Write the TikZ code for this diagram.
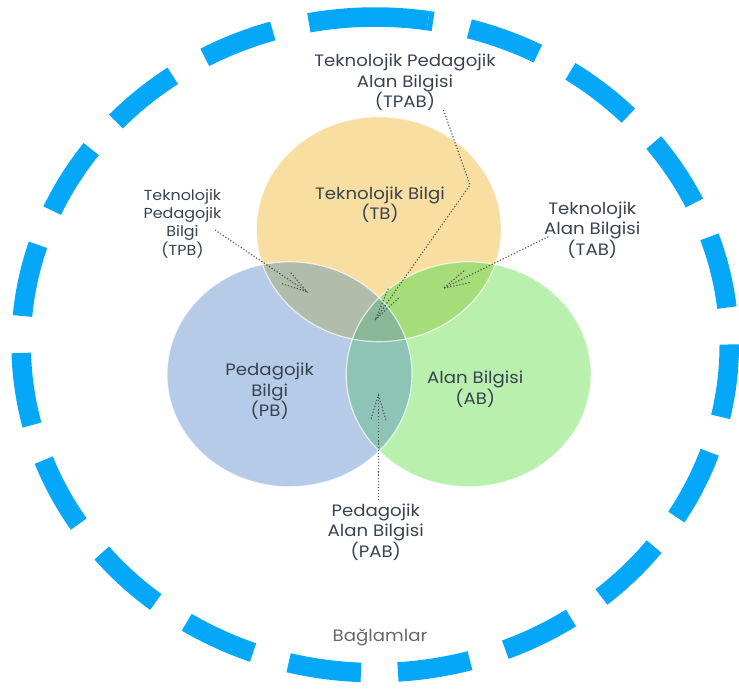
\documentclass[tikz,border=0pt]{standalone}
\usepackage{fontspec}
\setmainfont{Poppins}[FakeStretch=1.1]
\usetikzlibrary{calc}

\definecolor{ringblue}{HTML}{05A8F8}
\definecolor{tbfill}{HTML}{F8DFA1}
\definecolor{pbfill}{HTML}{B5CBE7}
\definecolor{abfill}{HTML}{B9F0AE}
\definecolor{tpbfill}{HTML}{B0BDAA}
\definecolor{tabfill}{HTML}{A7DD79}
\definecolor{pabfill}{HTML}{8DC4B5}
\definecolor{tpabfill}{HTML}{88B898}
\definecolor{inkslate}{HTML}{394250}
\definecolor{ptrgray}{HTML}{4F545B}
\definecolor{ctxgray}{HTML}{666666}

% open V head drawn with the same dotted stroke as the pointer line
\newcommand\dotbarbs[4]{%
  \draw[ptr] ($(#1)!#3!#4:(#2)$) -- (#1) -- ($(#1)!#3!-#4:(#2)$);}

\begin{document}
\begin{tikzpicture}[x=1pt,y=1pt,
  lbl/.style={align=center, inner sep=0pt, text=inkslate,
              font=\fontsize{16.5}{20.5}\selectfont},
  lblsmall/.style={lbl, font=\fontsize{14.5}{18.3}\selectfont},
  ptr/.style={draw=ptrgray, line width=1.1pt, dash pattern=on 1.2pt off 1.9pt},
  rim/.style={draw=white, line width=1.2pt, opacity=0.7},
  ringline/.style={draw=ringblue, line width=19.5pt}]

\useasboundingbox (0,0) rectangle (739,689);
\clip (0,0) rectangle (739,689);

% knowledge domains
\def\tbpath{(378.8,459.8) ellipse [x radius=122.5, y radius=112.5]}
\def\pbpath{(289.5,314.7) ellipse [x radius=122.5, y radius=112.5]}
\def\abpath{(468.7,314.7) ellipse [x radius=122.5, y radius=112.5]}

\fill[tbfill] \tbpath;
\fill[pbfill] \pbpath;
\fill[abfill] \abpath;
\begin{scope}
  \clip \tbpath;
  \fill[tpbfill] \pbpath;
  \fill[tabfill] \abpath;
\end{scope}
\begin{scope}
  \clip \pbpath;
  \fill[pabfill] \abpath;
\end{scope}
\begin{scope}
  \clip \tbpath;
  \clip \pbpath;
  \fill[tpabfill] \abpath;
\end{scope}
\draw[rim] \tbpath;
\draw[rim] \pbpath;
\draw[rim] \abpath;

% context ring: one long dash at the top, evenly dashed elsewhere
\coordinate (ringc) at (375.2,344.2);
\draw[ringline] ($(ringc)+(81.4:354 and 327.8)$)
  arc[start angle=81.4, end angle=100.8, x radius=354, y radius=327.8];
\draw[ringline, dash pattern=on 73.06pt off 37pt, dash phase=73.06pt]
  ($(ringc)+(100.8:354 and 327.8)$)
  arc[start angle=100.8, end angle=441.4, x radius=354, y radius=327.8];

% labels
\node[lbl] (tpab) at (405,606.3) {Teknolojik Pedagojik\\Alan Bilgisi\\(TPAB)};
\node[lbl] (tb) at (380,484.2) {Teknolojik Bilgi\\(TB)};
\node[lblsmall] (tpb) at (182.5,465.5) {Teknolojik\\Pedagojik\\Bilgi\\(TPB)};
\node[lbl] (tab) at (592.3,458.8) {Teknolojik\\Alan Bilgisi\\(TAB)};
\node[lbl] (pb) at (269.7,297.5) {Pedagojik\\Bilgi\\(PB)};
\node[lbl] (ab) at (475.3,299.7) {Alan Bilgisi\\(AB)};
\node[lbl] (pab) at (375.8,157) {Pedagojik\\Alan Bilgisi\\(PAB)};
\node[lbl, text=ctxgray] (ctx) at (380,51) {Bağlamlar};

% pointer ends
\coordinate (tpbTail) at ($(tpb.center)+(32.5,-6.5)$);
\coordinate (tpbTip) at (306.7,397.3);
\coordinate (tabTail) at ($(tab.center)+(-44,-6.5)$);
\coordinate (tabTip) at (443.3,400.7);
\coordinate (tpabTail) at ($(tpab.center)+(38.5,-27.3)$);
\coordinate (tpabBend) at (470,504);
\coordinate (tpabTip) at (375,369);
\coordinate (pabTail) at ($(pab.north)+(2.5,3)$);
\coordinate (pabTip) at (378.3,294);

% pointers
\draw[ptr] (tpbTail) -- (tpbTip);
\dotbarbs{tpbTip}{tpbTail}{26pt}{16}
\draw[ptr] (tabTail) -- (tabTip);
\dotbarbs{tabTip}{tabTail}{27pt}{14}
\draw[ptr] (tpabTail) -- (tpabBend) -- (tpabTip);
\dotbarbs{tpabTip}{tpabBend}{34pt}{12}
\draw[ptr] (pabTail) -- (pabTip);
\dotbarbs{pabTip}{pabTail}{26pt}{17}

\end{tikzpicture}
\end{document}
